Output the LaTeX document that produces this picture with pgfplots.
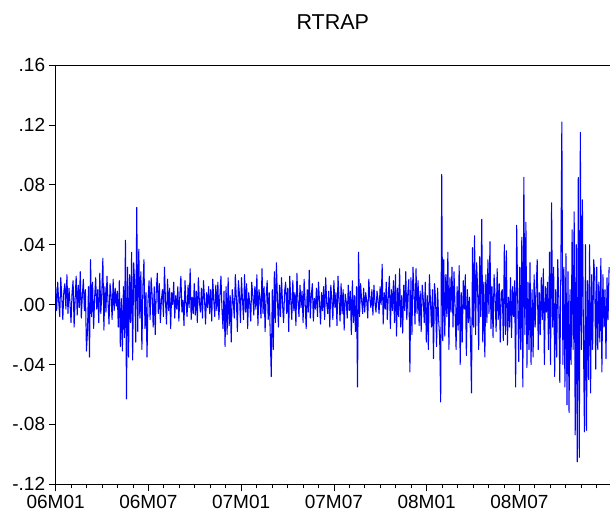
\documentclass[border=0pt]{standalone}
\usepackage{pgfplots}
\pgfplotsset{compat=1.18}
\usepackage{fontspec}
\setmainfont{Liberation Sans}

\begin{document}
\begin{tikzpicture}
\begin{axis}[
    scale only axis,
    width=554pt, height=419pt,
    xmin=0, xmax=35.86,
    ymin=-0.12, ymax=0.16,
    axis x line=box,
    axis y line=left,
    y axis line style={-},
    axis line style={line width=0.8pt},
    tick align=outside,
    xtick pos=bottom, ytick pos=left,
    xtick={0,6,12,18,24,30},
    xticklabels={06M01,06M07,07M01,07M07,08M01,08M07},
    minor xtick={1,2,3,4,5,7,8,9,10,11,13,14,15,16,17,19,20,21,22,23,25,26,27,28,29,31,32,33,34,35},
    ytick={-0.12,-0.08,-0.04,0,0.04,0.08,0.12,0.16},
    yticklabels={-.12,-.08,-.04,.00,.04,.08,.12,.16},
    major tick length=7pt,
    minor tick length=4pt,
    every tick/.style={black, line width=0.8pt},
    tick label style={font=\fontsize{19}{21}\selectfont},
    title={RTRAP},
    title style={font=\fontsize{21.5}{24}\selectfont, at={(0.5,1)}, anchor=base, yshift=30pt},
    clip=false,
]
\addplot[color={rgb,255:red,0;green,0;blue,255}, line width=1.05pt, line join=round]
  table[x expr=\coordindex*0.06642, y index=0] {
r
.012
-.004
.015
.002
-.008
.018
.005
-.010
.009
.014
-.003
.020
-.006
.011
.001
-.012
.008
.016
-.015
.004
.019
-.007
.013
-.002
.022
-.009
.006
.017
-.004
.010
-.031
-.018
.012
-.035
.030
-.008
.015
-.016
.005
.018
-.003
.010
-.012
.021
-.006
.008
.031
-.017
.012
-.005
.019
.002
-.013
.014
.006
-.010
.017
-.004
.011
-.001
.009
-.015
.016
-.028
.004
-.031
.012
-.022
.043
-.063
.025
-.035
.020
-.012
.035
-.037
.028
.014
-.025
.065
-.018
.037
-.009
.022
-.030
.012
.030
-.016
.008
-.035
.004
.016
-.010
.018
.006
-.015
.012
-.020
.009
.021
-.006
.014
-.012
.003
.010
-.008
.025
.002
-.013
.017
-.004
.011
-.016
.008
.000
.015
-.009
.006
-.003
.012
-.011
.007
.019
-.005
.003
-.014
.016
.001
-.008
.013
-.002
.024
-.010
.005
-.006
.014
-.007
.009
-.012
.018
.002
-.005
.011
-.009
.016
.004
-.013
.008
-.002
.012
-.006
.010
-.011
.017
.003
-.008
.013
-.004
.015
-.010
.006
.019
-.003
-.016
.009
-.028
.012
-.020
.018
-.014
.006
-.025
.010
.002
-.009
.020
.004
-.018
.016
.007
-.012
.018
.003
-.010
.020
-.005
.014
-.016
.008
.001
-.011
.015
.006
-.007
.012
-.003
.020
-.014
.010
.004
-.009
.024
-.006
.012
-.018
.005
.016
-.010
.008
-.020
-.048
.010
-.030
.022
-.012
.028
.004
-.015
.013
-.008
.018
.000
-.012
.009
.015
-.006
.011
-.018
.019
.003
-.010
.016
-.004
.008
-.014
.021
.002
-.008
.013
-.002
.009
-.012
.017
.001
-.016
.010
-.005
.023
-.009
.006
.014
-.011
.004
-.003
.011
-.008
.015
.002
-.013
.008
-.004
.012
-.010
.018
.001
-.006
.009
-.015
.013
.003
-.010
.016
-.002
.008
-.014
.019
.004
-.011
.014
-.006
.010
-.017
.007
.002
-.009
.013
-.004
.009
-.020
.016
-.012
.006
-.018
.012
-.055
.035
-.008
.014
.003
-.006
.011
-.005
.008
.002
-.009
.017
.004
-.002
.010
-.007
.013
.001
-.005
.009
.003
-.006
.012
.000
.027
-.013
.008
-.003
.015
-.010
.006
.019
-.016
.010
-.004
.016
-.012
.020
-.021
.011
-.008
.024
-.015
.006
-.019
.013
-.004
.022
-.010
.008
.017
-.045
.018
-.020
.025
.010
-.013
.024
-.006
.016
-.014
.009
-.018
.013
.004
-.012
.015
-.025
.006
-.030
.020
.003
-.015
.010
-.036
.014
.004
-.028
.011
-.010
-.022
-.065
.087
-.024
.030
-.021
.020
-.008
.035
-.030
.018
-.005
.025
-.015
.022
-.002
-.030
.012
-.017
.026
-.040
.008
-.025
.016
-.003
.020
-.034
.010
-.012
.005
-.020
-.059
.038
-.015
.046
-.020
.028
.010
-.030
.032
-.008
.057
-.025
.015
-.035
.020
-.012
.030
-.006
.042
-.016
.012
-.022
.020
.005
-.018
.024
-.010
.014
-.025
.008
.010
-.024
.040
-.020
.036
-.027
.005
-.015
.018
-.022
.012
-.008
.016
-.055
.053
.004
-.038
.025
-.030
.045
-.055
.085
-.020
.055
-.042
.015
-.030
.028
-.040
.010
-.035
.020
-.015
.010
.030
-.030
.008
-.020
.018
-.010
.024
-.040
.012
-.005
.015
-.030
.035
-.040
.068
-.015
.025
-.048
.010
-.035
.030
.005
-.052
.020
.122
-.040
.025
-.055
.034
-.067
.022
-.072
.010
-.040
.050
-.030
.062
-.087
.040
-.105
.085
-.102
.115
-.030
.070
-.020
-.085
.040
-.084
.016
-.050
.040
-.059
.020
-.030
.030
.020
-.043
.025
-.030
.015
-.025
.031
-.045
.020
-.015
.010
-.036
.018
-.010
.025
};
\end{axis}
\pgfresetboundingbox
\path ([xshift=-55.6pt,yshift=-29pt]current axis.south west) rectangle ([yshift=65pt]current axis.north east);
\end{tikzpicture}
\end{document}
